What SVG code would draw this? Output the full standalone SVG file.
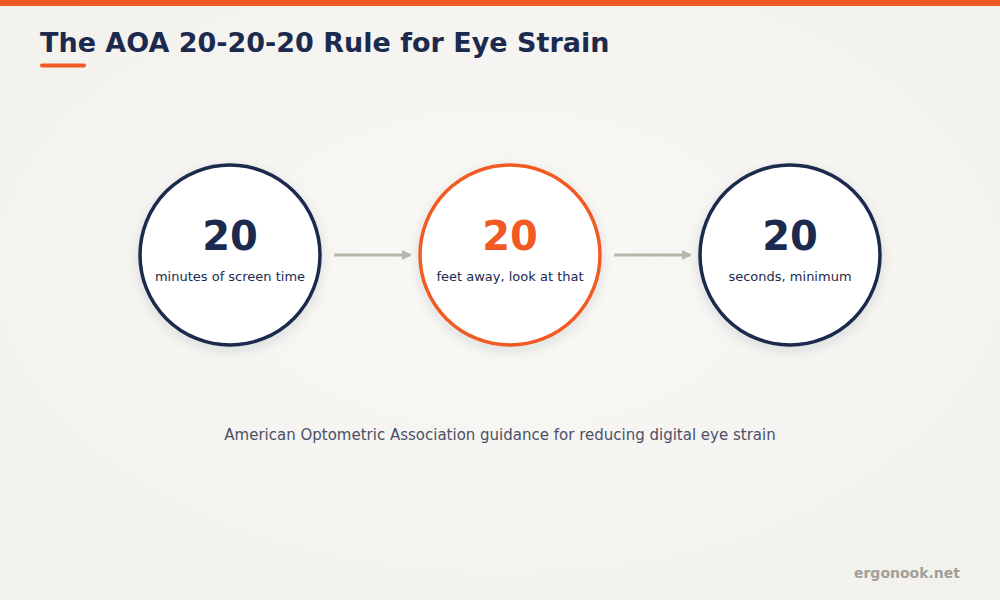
<svg xmlns="http://www.w3.org/2000/svg" width="1000" height="600" viewBox="0 0 1000 600">
<defs>
<radialGradient id="bg" cx="0.5" cy="0.45" r="0.7">
<stop offset="0" stop-color="#F9F8F5"/>
<stop offset="1" stop-color="#F3F1EC"/>
</radialGradient>
<filter id="sh" x="-30%" y="-30%" width="160%" height="160%">
<feDropShadow dx="0" dy="4" stdDeviation="6" flood-color="#1B2A4E" flood-opacity="0.12"/>
</filter>
<marker id="ah" markerWidth="10" markerHeight="10" refX="8" refY="5" orient="auto" markerUnits="userSpaceOnUse" viewBox="0 0 10 10">
<path d="M0,0 L10,5 L0,10 z" fill="#B8B7AC"/>
</marker>
<style>
.t{font-family:"DejaVu Sans",sans-serif}
.ring{fill:#FFFFFF;stroke-width:3.5}
.num{font-size:40px;font-weight:bold;text-anchor:middle}
.lab{font-size:13px;fill:#1B2A4E;text-anchor:middle}
.conn{stroke:#B8B7AC;stroke-width:3;fill:none}
</style>
</defs>
<rect width="1000" height="600" fill="url(#bg)"/>
<rect width="1000" height="6" fill="#F15A22"/>
<text class="t" x="40" y="52" font-size="27" font-weight="bold" fill="#1B2A4E">The AOA 20-20-20 Rule for Eye Strain</text>
<rect x="40" y="63.5" width="46" height="4" rx="2" fill="#F15A22"/>
<g id="connectors">
<line class="conn" x1="334" y1="255" x2="410" y2="255" marker-end="url(#ah)"/>
<line class="conn" x1="614" y1="255" x2="690" y2="255" marker-end="url(#ah)"/>
</g>
<g id="node1">
<circle class="ring" cx="230" cy="255" r="90" stroke="#1B2A4E" filter="url(#sh)"/>
<text class="t num" x="230" y="250" fill="#1B2A4E">20</text>
<text class="t lab" x="230" y="281">minutes of screen time</text>
</g>
<g id="node2">
<circle class="ring" cx="510" cy="255" r="90" stroke="#F15A22" filter="url(#sh)"/>
<text class="t num" x="510" y="250" fill="#F15A22">20</text>
<text class="t lab" x="510" y="281">feet away, look at that</text>
</g>
<g id="node3">
<circle class="ring" cx="790" cy="255" r="90" stroke="#1B2A4E" filter="url(#sh)"/>
<text class="t num" x="790" y="250" fill="#1B2A4E">20</text>
<text class="t lab" x="790" y="281">seconds, minimum</text>
</g>
<text class="t" x="500" y="440" font-size="15" fill="#4A5068" text-anchor="middle">American Optometric Association guidance for reducing digital eye strain</text>
<text class="t" x="960" y="578" font-size="14" font-weight="bold" fill="#A09F99" text-anchor="end">ergonook.net</text>
</svg>
